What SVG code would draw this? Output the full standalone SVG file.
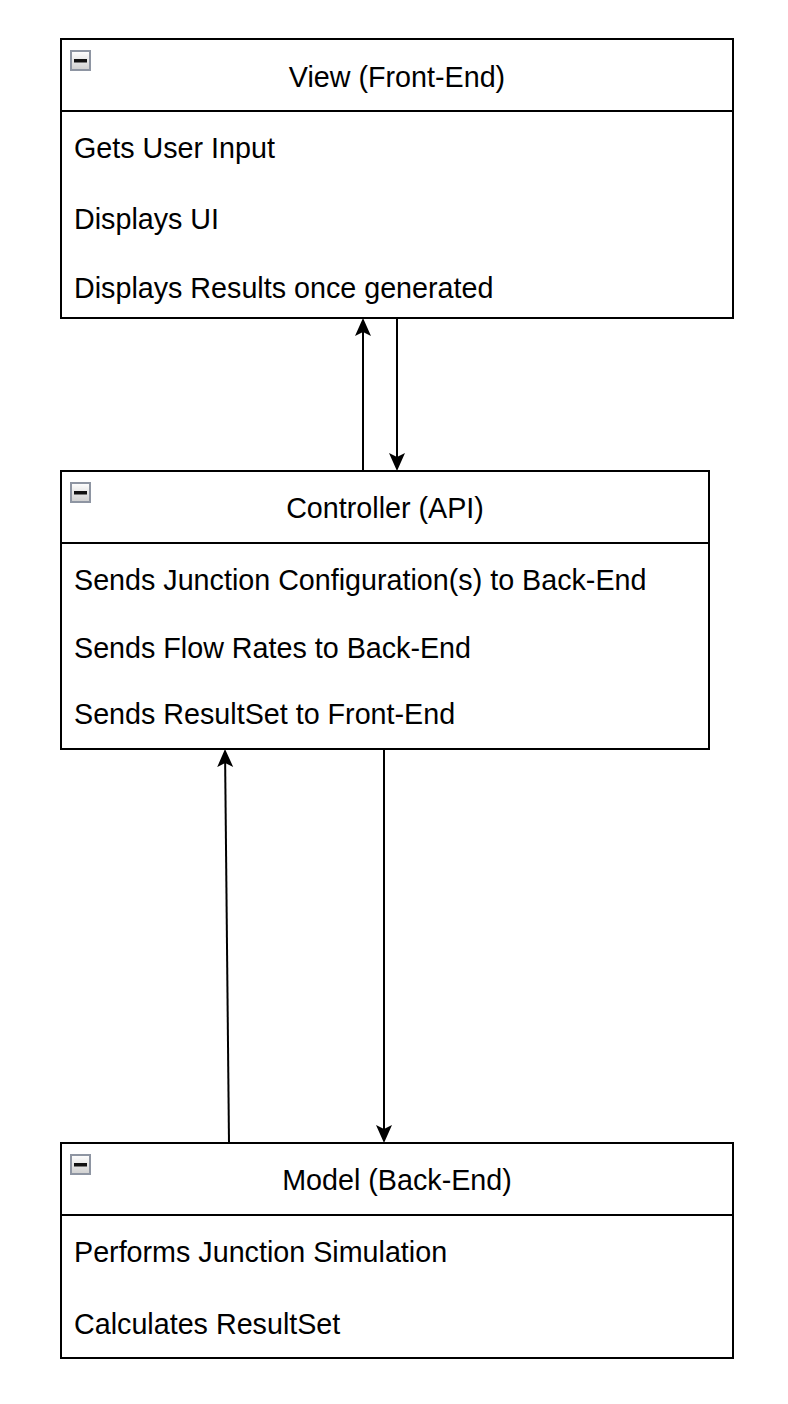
<svg xmlns="http://www.w3.org/2000/svg" width="788" height="1404" viewBox="0 0 788 1404">
<style>
.box{fill:#ffffff;stroke:#000000;stroke-width:2}
.sep{stroke:#000000;stroke-width:2;fill:none}
.t{font-family:"Liberation Sans",Arial,Helvetica,sans-serif;font-size:28.7px;fill:#000000}
.h{text-anchor:middle}
.ico{fill:url(#icoGrad);stroke:#8e95a2;stroke-width:2}
.bar{fill:#111111}
.conn{stroke:#000000;stroke-width:2;fill:none}
</style>
<defs>
<linearGradient id="icoGrad" x1="0" y1="0" x2="0" y2="1">
<stop offset="0" stop-color="#ffffff"/>
<stop offset="1" stop-color="#cfcfcf"/>
</linearGradient>
<marker id="arrow" markerUnits="userSpaceOnUse" markerWidth="20" markerHeight="20" viewBox="0 0 20 20" refX="4" refY="10" orient="auto">
<path d="M0,2 L18,10 L0,18 L4,10 Z" fill="#000000"/>
</marker>
</defs>
<g id="view">
<rect class="box" x="61" y="39" width="672" height="279"/>
<line class="sep" x1="61" y1="111" x2="733" y2="111"/>
<rect class="ico" x="71" y="51" width="19" height="19"/>
<rect class="bar" x="74" y="59" width="13" height="3.5"/>
<text class="t h" x="397" y="87">View (Front-End)</text>
<text class="t" x="74" y="158">Gets User Input</text>
<text class="t" x="74" y="229">Displays UI</text>
<text class="t" x="74" y="298">Displays Results once generated</text>
</g>
<g id="controller">
<rect class="box" x="61" y="471" width="648" height="278"/>
<line class="sep" x1="61" y1="543" x2="709" y2="543"/>
<rect class="ico" x="71" y="483" width="19" height="19"/>
<rect class="bar" x="74" y="491" width="13" height="3.5"/>
<text class="t h" x="385" y="518">Controller (API)</text>
<text class="t" x="74" y="590">Sends Junction Configuration(s) to Back-End</text>
<text class="t" x="74" y="658">Sends Flow Rates to Back-End</text>
<text class="t" x="74" y="724">Sends ResultSet to Front-End</text>
</g>
<g id="model">
<rect class="box" x="61" y="1143" width="672" height="215"/>
<line class="sep" x1="61" y1="1215" x2="733" y2="1215"/>
<rect class="ico" x="71" y="1155" width="19" height="19"/>
<rect class="bar" x="74" y="1163" width="13" height="3.5"/>
<text class="t h" x="397" y="1190">Model (Back-End)</text>
<text class="t" x="74" y="1262">Performs Junction Simulation</text>
<text class="t" x="74" y="1334">Calculates ResultSet</text>
</g>
<g id="connectors">
<line class="conn" x1="363" y1="471" x2="363" y2="332" marker-end="url(#arrow)"/>
<line class="conn" x1="397" y1="318" x2="397" y2="457" marker-end="url(#arrow)"/>
<line class="conn" x1="384" y1="749" x2="384" y2="1129" marker-end="url(#arrow)"/>
<line class="conn" x1="229" y1="1143" x2="225.15" y2="763" marker-end="url(#arrow)"/>
</g>
</svg>
